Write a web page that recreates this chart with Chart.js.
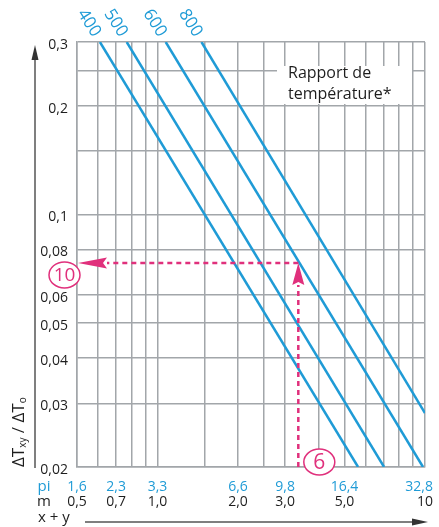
<!DOCTYPE html>
<html>
<head>
<meta charset="utf-8">
<script src="https://cdn.jsdelivr.net/npm/chart.js@4/dist/chart.umd.min.js"></script>
<style>
  html, body { margin: 0; padding: 0; background: #fff; }
  #wrap { width: 439px; height: 527px; position: relative; }
</style>
</head>
<body>
<div id="wrap"><canvas id="c" width="439" height="527"></canvas></div>
<script>
// Temperature ratio curves (x + y in metres, ΔTxy/ΔTo)
const curveNames = ['400', '500', '600', '800'];
const curve400 = [{ x: 0.609, y: 0.3 }, { x: 5.62, y: 0.02 }];
const curve500 = [{ x: 0.767, y: 0.3 }, { x: 7.03, y: 0.02 }];
const curve600 = [{ x: 1.073, y: 0.3 }, { x: 9.83, y: 0.02 }];
const curve800 = [{ x: 1.46, y: 0.3 }, { x: 10, y: 0.0282 }];

// Grid lines and tick labels
const xGrid = [0.5, 0.6, 0.7, 0.8, 0.9, 1, 1.5, 2, 2.5, 3, 4, 5, 6, 7, 8, 9, 10];
const yGrid = [0.02, 0.03, 0.04, 0.05, 0.06, 0.08, 0.1, 0.15, 0.2, 0.25, 0.3];
const yTickValues = [0.02, 0.03, 0.04, 0.05, 0.06, 0.08, 0.1, 0.2, 0.3];
const yTickLabels = ['0,02', '0,03', '0,04', '0,05', '0,06', '0,08', '0,1', '0,2', '0,3'];
const xTickValues = [0.5, 0.7, 1, 2, 3, 5, 10];
const mLabels = ['0,5', '0,7', '1,0', '2,0', '3,0', '5,0', '10'];
const piLabels = ['1,6', '2,3', '3,3', '6,6', '9,8', '16,4', '32,8'];

// Worked example: x + y read at 6 (ft), ratio read at 10
const exampleX = 3.36;
const exampleY = 0.0734;
const exampleXLabel = '6';
const exampleYLabel = '10';

const BLUE = '#1f9bd6';
const PINK = '#e0307c';
const GRID = '#a2a6aa';
const TEXT = '#1e1e1e';
const FONT = '"Open Sans", "Noto Sans", sans-serif';

function ellipseLabel(ctx, cx, cy, text, size) {
  ctx.save();
  ctx.beginPath();
  ctx.ellipse(cx, cy, 15.5, 13, 0, 0, Math.PI * 2);
  ctx.fillStyle = '#fff';
  ctx.fill();
  ctx.lineWidth = 1.5;
  ctx.strokeStyle = PINK;
  ctx.stroke();
  ctx.fillStyle = PINK;
  ctx.font = size + 'px ' + FONT;
  ctx.textAlign = 'center';
  ctx.textBaseline = 'middle';
  ctx.fillText(text, cx, cy + 1);
  ctx.restore();
}

const decorations = {
  id: 'decorations',
  beforeDatasetsDraw(chart) {
    const ctx = chart.ctx;
    // Legend box covering the grid
    ctx.save();
    ctx.fillStyle = '#fff';
    ctx.fillRect(277, 66, 135, 38);
    ctx.fillStyle = TEXT;
    ctx.font = '16px ' + FONT;
    ctx.textAlign = 'left';
    ctx.textBaseline = 'middle';
    ctx.fillText('Rapport de', 288, 73);
    ctx.fillText('température*', 288, 94);
    ctx.restore();
  },
  afterDatasetsDraw(chart) {
    const ctx = chart.ctx;
    const xs = chart.scales.x, ys = chart.scales.y;
    const area = chart.chartArea;

    // Curve labels above each line start
    ctx.save();
    ctx.fillStyle = BLUE;
    ctx.font = '500 17px ' + FONT;
    ctx.textAlign = 'center';
    ctx.textBaseline = 'middle';
    chart.data.datasets.forEach((ds, i) => {
      if (!ds.curveLabel) return;
      const px = xs.getPixelForValue(ds.data[0].x);
      const py = ys.getPixelForValue(ds.data[0].y);
      ctx.save();
      ctx.translate(px - 11, py - 19);
      ctx.rotate(57 * Math.PI / 180);
      ctx.fillText(ds.curveLabel, 0, 0);
      ctx.restore();
    });
    ctx.restore();

    // Example guide lines
    const gx = xs.getPixelForValue(exampleX);
    const gy = ys.getPixelForValue(exampleY);
    ctx.save();
    ctx.strokeStyle = PINK;
    ctx.fillStyle = PINK;
    ctx.lineWidth = 2.5;
    ctx.setLineDash([5, 4]);
    ctx.beginPath();
    ctx.moveTo(gx, area.bottom);
    ctx.lineTo(gx, gy + 22);
    ctx.stroke();
    ctx.beginPath();
    ctx.moveTo(gx, gy);
    ctx.lineTo(area.left + 30, gy);
    ctx.stroke();
    ctx.setLineDash([]);
    // up arrowhead
    ctx.beginPath();
    ctx.moveTo(gx, gy);
    ctx.lineTo(gx + 6, gy + 22);
    ctx.lineTo(gx, gy + 19);
    ctx.lineTo(gx - 6, gy + 22);
    ctx.closePath();
    ctx.fill();
    // left arrowhead
    const tip = area.left + 1;
    ctx.beginPath();
    ctx.moveTo(tip, gy);
    ctx.lineTo(tip + 29, gy - 5.5);
    ctx.lineTo(tip + 25, gy);
    ctx.lineTo(tip + 29, gy + 5.5);
    ctx.closePath();
    ctx.fill();
    ctx.restore();

    ellipseLabel(ctx, area.left - 12.5, gy + 12, exampleYLabel, 19);
    ellipseLabel(ctx, gx + 21, area.bottom - 5, exampleXLabel, 21);
  },
  afterDraw(chart) {
    const ctx = chart.ctx;
    const xs = chart.scales.x, ys = chart.scales.y;
    const area = chart.chartArea;
    ctx.save();
    ctx.font = '14px ' + FONT;
    ctx.fillStyle = TEXT;

    // y tick labels
    ctx.textAlign = 'right';
    ctx.textBaseline = 'middle';
    yTickValues.forEach((v, i) => {
      ctx.fillText(yTickLabels[i], area.left - 9, ys.getPixelForValue(v) + 3);
    });

    // x tick labels: feet row (blue) and metre row (black)
    ctx.textAlign = 'center';
    const W = chart.width;
    xTickValues.forEach((v, i) => {
      let px = xs.getPixelForValue(v);
      ctx.fillStyle = BLUE;
      const wp = ctx.measureText(piLabels[i]).width;
      ctx.fillText(piLabels[i], Math.min(px, W - wp / 2 - 6), area.bottom + 20);
      ctx.fillStyle = TEXT;
      const wm = ctx.measureText(mLabels[i]).width;
      ctx.fillText(mLabels[i], Math.min(px, W - wm / 2 - 6), area.bottom + 35);
    });
    ctx.font = '15px ' + FONT;
    ctx.fillStyle = BLUE;
    ctx.fillText('pi', 44, area.bottom + 20);
    ctx.fillStyle = TEXT;
    ctx.fillText('m', 44, area.bottom + 35);
    ctx.textAlign = 'left';
    ctx.fillText('x + y', 38, area.bottom + 51);

    // axis arrows
    ctx.strokeStyle = '#555';
    ctx.fillStyle = '#333';
    ctx.lineWidth = 1.5;
    ctx.beginPath();
    ctx.moveTo(35, area.bottom + 1);
    ctx.lineTo(35, 56);
    ctx.stroke();
    ctx.beginPath();
    ctx.moveTo(35, 45);
    ctx.lineTo(38.5, 60);
    ctx.lineTo(31.5, 60);
    ctx.closePath();
    ctx.fill();

    ctx.beginPath();
    ctx.moveTo(85, 522);
    ctx.lineTo(414, 522);
    ctx.stroke();
    ctx.beginPath();
    ctx.moveTo(428, 522);
    ctx.lineTo(412, 518.5);
    ctx.lineTo(412, 525.5);
    ctx.closePath();
    ctx.fill();

    // y axis title, rotated
    ctx.save();
    ctx.translate(24, area.bottom);
    ctx.rotate(-Math.PI / 2);
    ctx.fillStyle = TEXT;
    ctx.textAlign = 'left';
    ctx.textBaseline = 'alphabetic';
    let cx = 0;
    const part = (t, size, dy) => {
      ctx.font = size + 'px ' + FONT;
      ctx.fillText(t, cx, dy);
      cx += ctx.measureText(t).width;
    };
    part('ΔT', 17, 0);
    part('xy', 10, 2);
    part(' / ', 17, 0);
    part('ΔT', 17, 0);
    part('o', 10, 2);
    ctx.restore();

    ctx.restore();
  }
};

const lineStyle = {
  showLine: true,
  borderColor: BLUE,
  backgroundColor: BLUE,
  borderWidth: 2.5,
  pointRadius: 0,
  pointHoverRadius: 0,
  fill: false
};

new Chart(document.getElementById('c'), {
  type: 'scatter',
  data: {
    datasets: [
      Object.assign({ data: curve400, curveLabel: curveNames[0] }, lineStyle),
      Object.assign({ data: curve500, curveLabel: curveNames[1] }, lineStyle),
      Object.assign({ data: curve600, curveLabel: curveNames[2] }, lineStyle),
      Object.assign({ data: curve800, curveLabel: curveNames[3] }, lineStyle)
    ]
  },
  options: {
    responsive: false,
    devicePixelRatio: 1,
    animation: false,
    layout: { padding: { left: 77, right: 14, top: 42, bottom: 60 } },
    plugins: { legend: { display: false }, tooltip: { enabled: false } },
    scales: {
      x: {
        type: 'logarithmic',
        min: 0.5,
        max: 10,
        afterBuildTicks: s => { s.ticks = xGrid.map(v => ({ value: v })); },
        ticks: { display: false },
        grid: { color: GRID, lineWidth: 1.5, drawTicks: false },
        border: { display: true, color: GRID, width: 1.5 }
      },
      y: {
        type: 'logarithmic',
        min: 0.02,
        max: 0.3,
        afterBuildTicks: s => { s.ticks = yGrid.map(v => ({ value: v })); },
        ticks: { display: false },
        grid: { color: GRID, lineWidth: 1.5, drawTicks: false },
        border: { display: true, color: GRID, width: 1.5 }
      }
    }
  },
  plugins: [decorations]
});
</script>
</body>
</html>
